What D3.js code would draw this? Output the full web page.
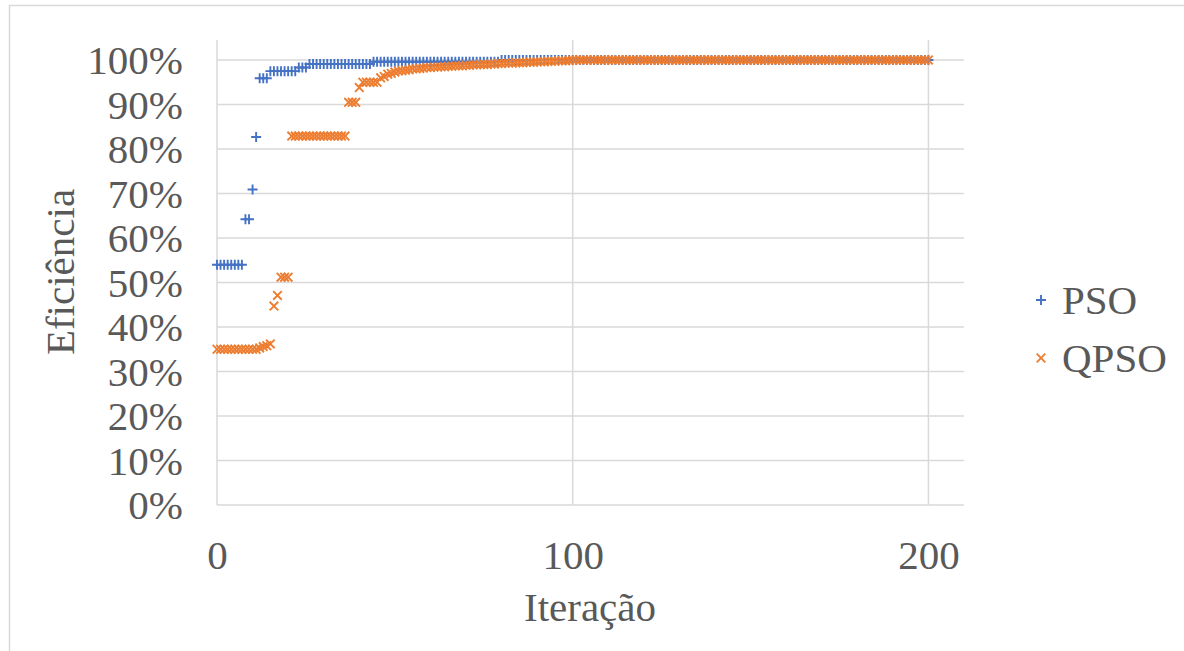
<!DOCTYPE html>
<html><head><meta charset="utf-8">
<script src="https://cdn.jsdelivr.net/npm/d3@7"></script>
<style>html,body{margin:0;padding:0;background:#fff;}svg{display:block;}</style>
</head><body>
<svg id="c" width="1184" height="651"></svg>
<script>
// Iterations 0..200
const iterations = Array.from({length: 201}, (_, i) => i);
// Eficiência (%) per iteration
const psoValues = [
54,54,54,54,54,54,54,54,64.2,64.2,70.9,82.7,95.9,95.9,95.9,97.5,97.5,97.5,97.5,97.5,
97.5,97.5,97.5,98.3,98.3,98.3,99.1,99.1,99.1,99.1,99.1,99.1,99.1,99.1,99.1,99.1,99.1,99.1,99.1,99.1,
99.1,99.1,99.1,99.1,99.6,99.6,99.6,99.6,99.6,99.6,99.6,99.6,99.6,99.6,99.6,99.6,99.6,99.6,99.6,99.6,
99.6,99.6,99.6,99.6,99.6,99.6,99.6,99.6,99.6,99.6,99.6,99.6,99.6,99.6,99.6,99.6,99.6,99.6,99.6,99.6,
100,100,100,100,100,100,100,100,100,100,100,100,100,100,100,100,100,100,100,100,
100,100,100,100,100,100,100,100,100,100,100,100,100,100,100,100,100,100,100,100,
100,100,100,100,100,100,100,100,100,100,100,100,100,100,100,100,100,100,100,100,
100,100,100,100,100,100,100,100,100,100,100,100,100,100,100,100,100,100,100,100,
100,100,100,100,100,100,100,100,100,100,100,100,100,100,100,100,100,100,100,100,
100,100,100,100,100,100,100,100,100,100,100,100,100,100,100,100,100,100,100,100,
100];
const qpsoValues = [
35,35,35,35,35,35,35,35,35,35,35,35,35.3,35.6,35.8,36.2,44.7,47.1,51.2,51.2,
51.2,82.9,82.9,82.9,82.9,82.9,82.9,82.9,82.9,82.9,82.9,82.9,82.9,82.9,82.9,82.9,82.9,90.5,90.5,90.5,
93.8,95,95,95,95,95,96,96.3,96.8,97,97.3,97.5,97.6,97.7,97.8,98,98,98.1,98.2,98.3,
98.3,98.4,98.4,98.5,98.5,98.6,98.6,98.7,98.7,98.7,98.8,98.8,98.9,98.9,99,99,99,99.1,99.1,99.2,
99.2,99.3,99.3,99.3,99.4,99.4,99.4,99.5,99.5,99.5,99.6,99.6,99.6,99.7,99.7,99.7,99.8,99.8,99.8,99.9,
100,100,100,100,100,100,100,100,100,100,100,100,100,100,100,100,100,100,100,100,
100,100,100,100,100,100,100,100,100,100,100,100,100,100,100,100,100,100,100,100,
100,100,100,100,100,100,100,100,100,100,100,100,100,100,100,100,100,100,100,100,
100,100,100,100,100,100,100,100,100,100,100,100,100,100,100,100,100,100,100,100,
100,100,100,100,100,100,100,100,100,100,100,100,100,100,100,100,100,100,100,100,
100];
const yTicks = [0,10,20,30,40,50,60,70,80,90,100];
const xTicks = [0,100,200];
const seriesNames = ["PSO","QPSO"];
const xLabel = "Iteração";
const yLabel = "Eficiência";

const svg = d3.select("#c");
const font = "'Liberation Serif','Times New Roman',serif";
const fs = 41;
const textColor = "#595959";
const gridColor = "#d9d9d9";
const blue = "#4472C4", orange = "#ED7D31";

// outer chart border (partially visible)
svg.append("rect").attr("x",9.5).attr("y",5.5).attr("width",1300).attr("height",800)
  .attr("fill","none").attr("stroke","#d9d9d9").attr("stroke-width",1.5);

const x = d3.scaleLinear().domain([0,210]).range([217,964]);
const y = d3.scaleLinear().domain([0,100]).range([505,60]);
const plotTop = 40;

// horizontal gridlines
svg.append("g").selectAll("line").data(yTicks.filter(d=>d>0)).join("line")
  .attr("x1",x(0)).attr("x2",x(210)).attr("y1",d=>y(d)).attr("y2",d=>y(d))
  .attr("stroke",gridColor).attr("stroke-width",1.5);
// vertical gridlines
svg.append("g").selectAll("line").data(xTicks.filter(d=>d>0)).join("line")
  .attr("x1",d=>x(d)).attr("x2",d=>x(d)).attr("y1",plotTop).attr("y2",y(0))
  .attr("stroke",gridColor).attr("stroke-width",1.5);

// Axes (D3 axes, styled)
const yAxis = svg.append("g").attr("transform",`translate(${x(0)},0)`)
  .call(d3.axisLeft(y).tickValues(yTicks).tickFormat(d=>d+"%").tickSize(0).tickPadding(34));
yAxis.select(".domain").remove();
yAxis.selectAll("text").attr("font-family",font).attr("font-size",fs).attr("fill",textColor).attr("dy","0.34em");
svg.append("line").attr("x1",x(0)).attr("x2",x(0)).attr("y1",plotTop).attr("y2",y(0))
  .attr("stroke",gridColor).attr("stroke-width",1.5);

const xAxis = svg.append("g").attr("transform",`translate(0,${y(0)})`)
  .call(d3.axisBottom(x).tickValues(xTicks).tickFormat(d3.format("d")).tickSize(0));
xAxis.select(".domain").remove();
xAxis.selectAll("text").attr("font-family",font).attr("font-size",fs).attr("fill",textColor)
  .attr("y",50).attr("dy","0.34em");
svg.append("line").attr("x1",x(0)).attr("x2",x(210)).attr("y1",y(0)).attr("y2",y(0))
  .attr("stroke",gridColor).attr("stroke-width",1.5);

// Axis titles
svg.append("text").attr("x",590).attr("y",607).attr("text-anchor","middle").attr("dy","0.34em")
  .attr("font-family",font).attr("font-size",fs).attr("fill",textColor).text(xLabel);
svg.append("text").attr("transform","translate(60,272) rotate(-90)").attr("text-anchor","middle")
  .attr("dy","0.34em").attr("font-family",font).attr("font-size",fs).attr("fill",textColor).text(yLabel);

// markers
const plusPath = "M-5,0H5M0,-5V5";
const crossPath = "M-4.3,-4.3L4.3,4.3M-4.3,4.3L4.3,-4.3";
const psoData = iterations.map((it,i)=>({x:it,y:psoValues[i]}));
const qpsoData = iterations.map((it,i)=>({x:it,y:qpsoValues[i]}));

svg.append("g").selectAll("path").data(psoData).join("path")
  .attr("d",plusPath).attr("transform",d=>`translate(${x(d.x)},${y(d.y)})`)
  .attr("stroke",blue).attr("stroke-width",1.9).attr("fill","none");
svg.append("g").selectAll("path").data(qpsoData).join("path")
  .attr("d",crossPath).attr("transform",d=>`translate(${x(d.x)},${y(d.y)})`)
  .attr("stroke",orange).attr("stroke-width",1.9).attr("fill","none");

// Legend
const legend = svg.append("g");
const legY = [300, 358];
legend.selectAll("path").data(seriesNames).join("path")
  .attr("d",(d,i)=>i===0?plusPath:crossPath)
  .attr("transform",(d,i)=>`translate(1041,${legY[i]})`)
  .attr("stroke",(d,i)=>i===0?blue:orange).attr("stroke-width",1.9).attr("fill","none");
legend.selectAll("text").data(seriesNames).join("text")
  .attr("x",1062).attr("y",(d,i)=>legY[i]).attr("dy","0.34em")
  .attr("font-family",font).attr("font-size",fs).attr("fill",textColor).text(d=>d);
</script>
</body></html>
